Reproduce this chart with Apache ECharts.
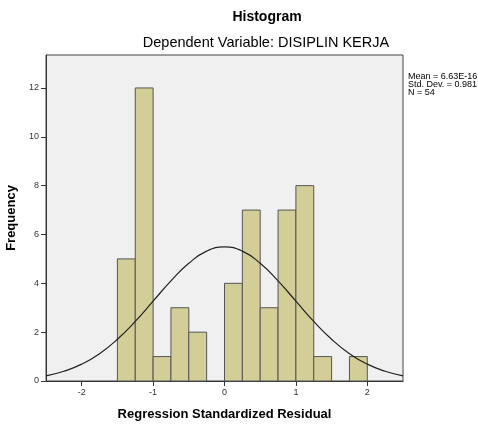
<!DOCTYPE html>
<html>
<head>
<meta charset="utf-8">
<script src="https://cdn.jsdelivr.net/npm/echarts@6/dist/echarts.min.js"></script>
<style>
  html, body { margin: 0; padding: 0; background: #fff; }
  #chart { width: 478px; height: 424px; }
</style>
</head>
<body>
<div id="chart"></div>
<script>
// histogram bins (width 0.25) and counts
var binStart = [-1.5, -1.25, -1.0, -0.75, -0.5, -0.25, 0.0, 0.25, 0.5, 0.75, 1.0, 1.25, 1.5, 1.75];
var counts   = [5, 12, 1, 3, 2, 0, 4, 7, 3, 7, 8, 1, 0, 1];
var binWidth = 0.25;

// normal curve
var curveX = [-2.5, -2.25, -2.0, -1.75, -1.5, -1.25, -1.0, -0.75, -0.5, -0.25, 0,
              0.25, 0.5, 0.75, 1.0, 1.25, 1.5, 1.75, 2.0, 2.25, 2.5];
var curveY = [0.21, 0.40, 0.69, 1.12, 1.71, 2.44, 3.27, 4.10, 4.82, 5.32, 5.49,
              5.32, 4.82, 4.10, 3.27, 2.44, 1.71, 1.12, 0.69, 0.40, 0.21];

var xTicks = [-2, -1, 0, 1, 2];
var yTicks = [0, 2, 4, 6, 8, 10, 12];
var statsText = ['Mean = 6.63E-16', 'Std. Dev. = 0.981', 'N = 54'];

var font = '"Liberation Sans", Arial, sans-serif';

var barData = [];
for (var i = 0; i < counts.length; i++) {
  if (counts[i] > 0) barData.push([binStart[i], binStart[i] + binWidth, counts[i]]);
}
var lineData = curveX.map(function (x, i) { return [x, curveY[i]]; });

var chart = echarts.init(document.getElementById('chart'));
chart.setOption({
  animation: false,
  textStyle: { fontFamily: font },
  graphic: [{
    type: 'text', x: 267, y: 17,
    style: { text: 'Histogram', font: 'bold 14px ' + font, fill: '#000', align: 'center', verticalAlign: 'middle' }
  }, {
    type: 'text', x: 266, y: 43,
    style: { text: 'Dependent Variable: DISIPLIN KERJA', font: '14.5px ' + font, fill: '#000', align: 'center', verticalAlign: 'middle' }
  }].concat(statsText.map(function (t, i) {
    return {
      type: 'text', x: 408, y: 72 + i * 8,
      style: { text: t, font: '9px ' + font, fill: '#000' }
    };
  })),
  grid: {
    left: 46, right: 75, top: 55, bottom: 43,
    outerBoundsMode: 'none', containLabel: false,
    show: true, backgroundColor: '#f0f0f0', borderColor: '#444', borderWidth: 1
  },
  xAxis: {
    type: 'value', min: -2.5, max: 2.5,
    name: 'Regression Standardized Residual', nameLocation: 'middle', nameGap: 27,
    nameTextStyle: { fontSize: 13, fontWeight: 'bold', color: '#000', fontFamily: font },
    axisLine: { show: true, onZero: false, lineStyle: { color: '#333' } },
    axisTick: { show: true, length: 5, customValues: xTicks, lineStyle: { color: '#333' } },
    axisLabel: { customValues: xTicks, fontSize: 9, color: '#333', margin: 7 },
    splitLine: { show: false }
  },
  yAxis: {
    type: 'value', min: 0, max: 13.35,
    name: 'Frequency', nameLocation: 'middle', nameGap: 25,
    nameTextStyle: { fontSize: 13, fontWeight: 'bold', color: '#000', fontFamily: font },
    axisLine: { show: true, onZero: false, lineStyle: { color: '#333' } },
    axisTick: { show: true, length: 5, customValues: yTicks, lineStyle: { color: '#333' } },
    axisLabel: { customValues: yTicks, fontSize: 9, color: '#333', margin: 7 },
    splitLine: { show: false }
  },
  series: [{
    type: 'custom',
    data: barData,
    renderItem: function (params, api) {
      var p0 = api.coord([api.value(0), api.value(2)]);
      var p1 = api.coord([api.value(1), 0]);
      return {
        type: 'rect',
        shape: { x: p0[0], y: p0[1], width: p1[0] - p0[0], height: p1[1] - p0[1] },
        style: { fill: '#d3ce97', stroke: '#555', lineWidth: 1 }
      };
    },
    encode: { x: [0, 1], y: 2 }
  }, {
    type: 'line',
    data: lineData,
    smooth: true,
    showSymbol: false,
    symbol: 'none',
    lineStyle: { color: '#222', width: 1.2 },
    z: 5
  }]
});
</script>
</body>
</html>
